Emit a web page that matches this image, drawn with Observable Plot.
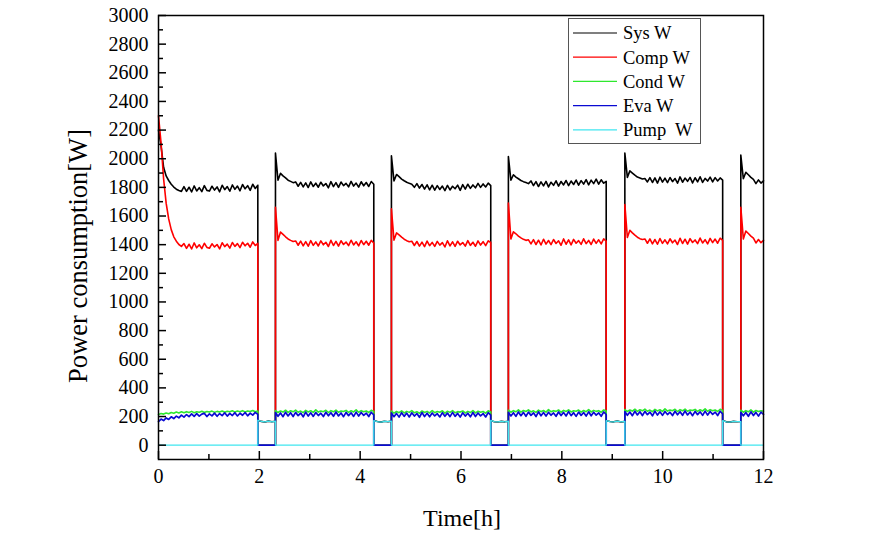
<!DOCTYPE html>
<html><head><meta charset="utf-8">
<script src="https://cdn.jsdelivr.net/npm/d3@7"></script>
<script src="https://cdn.jsdelivr.net/npm/@observablehq/plot@0.6"></script>
<style>
body{margin:0;background:#fff}
#chart{position:relative;width:886px;height:541px;background:#fff}
#legend{position:absolute;left:568px;top:18px}
</style>
</head><body><div id="chart"></div>
<script>
const seriesNames = ["Sys W","Comp W","Cond W","Eva W","Pump  W"];
const seriesColors = ["#000000","#ff0000","#2ee82e","#0a0ad2","#40e6f0"];

// compressor on/off switching times [h]
const onStart = [0, 2.32, 4.62, 6.94, 9.25, 11.55];
const onEnd   = [1.97, 4.27, 6.59, 8.88, 11.19, 12.0];

const sysOn = [
 [2200,2090,1940,1880,1848,1822,1802,1787,1778,1772,1805,1772,1801,1768,1810,1775,1798,1770,1812,1779,1774,1808,1781,1803,1769,1815,1784,1806,1773,1817,1786,1809,1776,1820,1790,1812,1779,1822,1792,1815],
 [2040,1850,1898,1880,1866,1850,1842,1833,1838,1808,1835,1803,1831,1799,1838,1806,1829,1801,1836,1810,1827,1797,1840,1805,1833,1800,1837,1812,1828,1804,1842,1809,1830,1802,1839,1811,1834,1806,1841,1822],
 [2020,1845,1890,1875,1858,1846,1836,1828,1822,1800,1826,1795,1820,1788,1818,1783,1815,1780,1812,1785,1809,1777,1814,1782,1808,1790,1816,1779,1819,1788,1822,1793,1817,1797,1828,1800,1824,1803,1830,1812],
 [2015,1850,1888,1872,1860,1848,1840,1834,1826,1845,1812,1840,1806,1838,1810,1842,1803,1836,1814,1846,1809,1841,1817,1848,1812,1844,1820,1851,1815,1847,1823,1854,1818,1850,1826,1857,1822,1853,1829,1842],
 [2040,1870,1915,1900,1885,1872,1866,1858,1862,1838,1868,1834,1866,1830,1871,1837,1864,1833,1869,1840,1862,1829,1873,1836,1865,1842,1870,1831,1867,1839,1874,1835,1863,1844,1872,1838,1868,1845,1866,1850],
 [2025,1860,1905,1888,1870,1856,1826,1852,1830,1846]
];
const compOn = [
 [2300,2110,1860,1690,1580,1505,1455,1424,1401,1388,1408,1374,1403,1370,1412,1378,1399,1372,1410,1381,1375,1406,1384,1401,1371,1413,1386,1404,1376,1415,1388,1407,1379,1417,1392,1410,1382,1419,1394,1409],
 [1660,1430,1488,1472,1455,1440,1430,1422,1426,1396,1425,1392,1421,1389,1428,1395,1419,1391,1426,1399,1417,1387,1430,1394,1423,1390,1427,1401,1418,1393,1431,1398,1420,1392,1429,1400,1424,1396,1430,1412],
 [1650,1432,1482,1468,1452,1438,1428,1420,1424,1394,1422,1390,1418,1386,1425,1393,1416,1388,1423,1397,1414,1384,1427,1391,1420,1388,1424,1398,1415,1390,1428,1395,1417,1389,1426,1397,1421,1393,1427,1415],
 [1690,1440,1490,1476,1460,1447,1437,1430,1434,1405,1435,1401,1431,1398,1438,1404,1429,1400,1436,1408,1427,1396,1440,1403,1433,1399,1437,1410,1428,1402,1441,1407,1430,1401,1439,1409,1434,1405,1440,1425],
 [1680,1450,1500,1482,1466,1452,1442,1436,1440,1410,1440,1406,1436,1403,1443,1409,1434,1405,1441,1413,1432,1401,1445,1408,1438,1404,1442,1415,1433,1407,1446,1412,1435,1406,1444,1414,1439,1410,1445,1430],
 [1660,1440,1495,1478,1460,1445,1412,1436,1414,1430]
];
const condOn = [
 [214,221,217,225,220,228,223,231,225,233,226,234,228,236,227,233,230,237,228,235,231,238,229,236,232,239,230,237,233,240,231,238,234,241,232,239,235,242,233,238],
 [242,228,239,231,244,229,240,233,245,230,238,227,243,232,240,229,246,231,239,234,244,228,241,233,245,230,238,235,243,229,240,232,246,230,241,234,239,228,244,236],
 [238,224,235,227,240,225,236,229,241,226,234,223,239,228,236,225,242,227,235,230,240,224,237,229,241,226,234,231,239,225,236,228,242,226,237,230,235,224,240,232],
 [244,230,241,233,246,231,242,235,247,232,240,229,245,234,242,231,248,233,241,236,246,230,243,235,247,232,240,237,245,231,242,234,248,232,243,236,241,230,246,238],
 [249,235,246,238,251,236,247,240,252,237,245,234,250,239,247,236,253,238,246,241,251,235,248,240,252,237,245,242,250,236,247,239,253,237,248,241,246,235,251,243],
 [244,230,241,233,246,231,242,235,240,237]
];
const evaOn = [
 [165,182,172,190,180,198,186,203,191,210,196,214,199,218,201,220,203,217,222,200,219,205,224,202,221,206,226,203,222,207,227,204,223,209,228,205,224,210,229,215],
 [228,202,225,199,230,204,227,200,229,206,224,198,231,203,226,201,228,207,223,200,230,205,227,202,232,204,225,199,229,206,226,201,231,203,228,208,224,200,230,212],
 [225,199,222,196,227,201,224,197,226,203,221,195,228,200,223,198,225,204,220,197,227,202,224,199,229,201,222,196,226,203,223,198,228,200,225,205,221,197,227,210],
 [230,204,227,201,232,206,229,202,231,208,226,200,233,205,228,203,230,209,225,202,232,207,229,204,234,206,227,201,231,208,228,203,233,205,230,210,226,202,232,214],
 [235,209,232,206,237,211,234,207,236,213,231,205,238,210,233,208,235,214,230,207,237,212,234,209,239,211,232,206,236,213,233,208,238,210,235,215,231,207,237,219],
 [230,205,228,202,233,207,229,203,231,215]
];
const pumpOn = [[0,0],[0,0],[0,0],[0,0],[0,0],[0,0]];
const pumpOff = [
 [174,166,162,168,163,167],
 [172,165,161,167,164,168],
 [173,164,162,166,163,167],
 [171,165,163,168,162,166],
 [172,163,161,166,164,165]
];
const zeroOff = [[0,0],[0,0],[0,0],[0,0],[0,0]];

const xTicks = [0,2,4,6,8,10,12];
const xMinor = [1,3,5,7,9,11];
const yTicks = [0,200,400,600,800,1000,1200,1400,1600,1800,2000,2200,2400,2600,2800,3000];
const yMinor = [100,300,500,700,900,1100,1300,1500,1700,1900,2100,2300,2500,2700,2900];

function build(onVals, offVals){
  const rows = [];
  onVals.forEach((vals, i) => {
    const a = onStart[i], b = onEnd[i], n = vals.length;
    vals.forEach((v, j) => rows.push({t: a + (b - a) * j / (n - 1), v}));
    if (i < offVals.length) {
      const o = offVals[i], c = onEnd[i], d = onStart[i + 1], m = o.length;
      o.forEach((v, j) => rows.push({t: c + (d - c) * j / (m - 1), v}));
    }
  });
  return rows;
}
const seriesData = [
  build(sysOn, pumpOff),
  build(compOn, zeroOff),
  build(condOn, zeroOff),
  build(evaOn, zeroOff),
  build(pumpOn, pumpOff)
];
const seriesWidths = [1.6, 1.6, 1.6, 1.7, 1.3];

const font = "'Liberation Serif','Times New Roman',serif";
const svg = Plot.plot({
  width: 886, height: 541,
  marginLeft: 158, marginRight: 123, marginTop: 15, marginBottom: 82,
  x: {domain: [0, 12]},
  y: {domain: [-100, 3000]},
  style: {fontFamily: font, fontSize: "20px", color: "#000", background: "#fff"},
  marks: [
    ...seriesData.map((d, i) => Plot.line(d, {x: "t", y: "v", stroke: seriesColors[i], strokeWidth: seriesWidths[i]})),
    Plot.axisX(xTicks, {tickSize: -8, fill: "none", strokeWidth: 1.5, label: null}),
    Plot.axisX(xMinor, {tickSize: -5, fill: "none", strokeWidth: 1.5, label: null}),
    Plot.axisX(xTicks, {tickSize: 0, tickPadding: 9, label: null, tickFormat: d => String(d)}),
    Plot.axisY(yTicks, {tickSize: -8, fill: "none", strokeWidth: 1.5, label: null}),
    Plot.axisY(yMinor, {tickSize: -5, fill: "none", strokeWidth: 1.5, label: null}),
    Plot.axisY(yTicks, {tickSize: 0, tickPadding: 10, label: null, tickFormat: d => String(d)}),
    Plot.frame({stroke: "#000", strokeWidth: 1.5})
  ]
});
const s = d3.select(svg);
s.append("text").attr("x", 462).attr("y", 526).attr("text-anchor", "middle")
  .style("font-family", font).style("font-size", "24px").text("Time[h]");
s.append("text").attr("transform", "translate(87,256) rotate(-90)").attr("text-anchor", "middle")
  .style("font-family", font).style("font-size", "26.5px").text("Power consumption[W]");
const chart = document.getElementById("chart");
chart.appendChild(svg);

// legend
const lg = d3.select(chart).append("svg").attr("id", "legend").attr("width", 133).attr("height", 126);
lg.append("rect").attr("x", 0.5).attr("y", 0.5).attr("width", 132).attr("height", 125)
  .attr("fill", "#fff").attr("stroke", "#555").attr("stroke-width", 1);
seriesNames.forEach((name, i) => {
  const cy = 15 + i * 24.2;
  lg.append("line").attr("x1", 5).attr("x2", 49).attr("y1", cy).attr("y2", cy)
    .attr("stroke", seriesColors[i]).attr("stroke-width", 1.2);
  lg.append("text").attr("x", 55).attr("y", cy).attr("dy", "0.35em")
    .style("font-family", font).style("font-size", "18.5px").style("white-space", "pre").text(name);
});
</script>
</body></html>
